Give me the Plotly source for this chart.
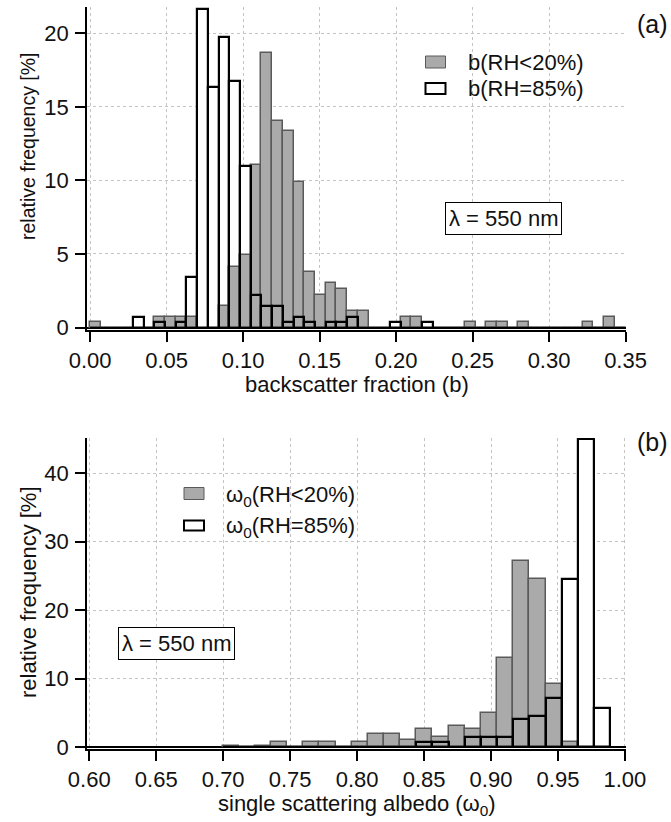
import plotly.graph_objects as go

# ---------------- data ----------------
# Panel (a): backscatter fraction, 50 bins of width 0.007 from 0.00 to 0.35
b_bin_width = 0.007
b_bin_centers = [round(0.0035 + 0.007 * i, 4) for i in range(50)]
b_dry = [0.36, 0, 0, 0, 0, 0, 0.73, 0.73, 0.73, 0.73,
         0, 0, 1.46, 4.14, 4.9, 11.02, 18.68, 14.06, 13.34, 9.89,
         3.77, 2.23, 3.0, 2.64, 1.1, 1.1, 0, 0, 0, 0.73,
         0.73, 0, 0, 0, 0, 0.36, 0, 0.36, 0.36, 0,
         0.36, 0, 0, 0, 0, 0, 0.36, 0, 0.73, 0]
b_wet = [0, 0, 0, 0, 0.73, 0, 0.36, 0, 0.36, 3.41,
         21.67, 16.33, 19.77, 16.74, 10.98, 2.23, 1.46, 1.46, 0.36, 0.73,
         0.36, 0, 0.36, 0.36, 0.73, 0, 0, 0, 0.36, 0,
         0, 0.36, 0, 0, 0, 0, 0, 0, 0, 0,
         0, 0, 0, 0, 0, 0, 0, 0, 0, 0]

# Panel (b): single scattering albedo, 24 bins of width 0.01206 starting at 0.6995
w_bin_width = 0.01206
w_bin_centers = [round(0.6995 + 0.01206 * (i + 0.5), 5) for i in range(24)]
w_dry = [0.2, 0, 0.2, 0.73, 0, 0.73, 0.73, 0, 0.73, 1.85,
         1.85, 1.07, 2.63, 1.46, 3.02, 2.63, 4.97, 13.0, 27.2, 24.5,
         9.2, 0.73, 0, 0]
w_wet = [0, 0, 0, 0, 0, 0, 0, 0, 0, 0,
         0, 0, 0.68, 0.68, 0, 1.41, 1.41, 1.41, 4.09, 4.48,
         7.1, 24.5, 44.96, 5.65]

b_ticks = [0.00, 0.05, 0.10, 0.15, 0.20, 0.25, 0.30, 0.35]
w_ticks = [0.60, 0.65, 0.70, 0.75, 0.80, 0.85, 0.90, 0.95, 1.00]
b_yticks = [0, 5, 10, 15, 20]
w_yticks = [0, 10, 20, 30, 40]

# ---------------- styling ----------------
W, H = 671, 822
ML, MR, MT, MB = 87, 45, 7, 73
FONT = "Liberation Sans, Arial, Helvetica, sans-serif"
GRAY_FILL = "#aaaaaa"
GRAY_LINE = "#5a5a5a"


def px(x, y):
    return (x - ML) / (W - ML - MR), (H - MB - y) / (H - MT - MB)


fig = go.Figure()


def add_hist(xa, ya, centers, width, dry, wet):
    # white fill (behind), gray bars, then black outlines on top
    fig.add_trace(go.Bar(x=centers, y=wet, width=width, xaxis=xa, yaxis=ya,
                         marker=dict(color="white", line=dict(width=0)),
                         showlegend=False, hoverinfo="skip"))
    fig.add_trace(go.Bar(x=centers, y=dry, width=width, xaxis=xa, yaxis=ya,
                         marker=dict(color=GRAY_FILL, line=dict(color=GRAY_LINE, width=1.5)),
                         showlegend=False))
    fig.add_trace(go.Bar(x=centers, y=wet, width=width, xaxis=xa, yaxis=ya,
                         marker=dict(color="rgba(0,0,0,0)", line=dict(color="black", width=2.2)),
                         showlegend=False))


add_hist("x", "y", b_bin_centers, b_bin_width, b_dry, b_wet)
add_hist("x2", "y2", w_bin_centers, w_bin_width, w_dry, w_wet)

axis_common = dict(
    showline=True, linecolor="black", linewidth=1.5,
    ticks="outside", ticklen=10, tickwidth=1.5, tickcolor="black",
    showgrid=True, gridcolor="#c4c4c4", griddash="dot", gridwidth=1,
    tickfont=dict(family=FONT, size=22, color="#111111"),
)

top_y0, top_y1 = px(0, 330)[1], 1.0
bot_y0, bot_y1 = 0.0, px(0, 438)[1]

fig.update_layout(
    width=W, height=H, autosize=False,
    margin=dict(l=ML, r=MR, t=MT, b=MB, pad=0),
    paper_bgcolor="white", plot_bgcolor="white",
    barmode="overlay", bargap=0,
    font=dict(family=FONT, size=22, color="#111111"),
    xaxis=dict(axis_common, domain=[0, 1], anchor="y", range=[-0.002, 0.3503],
               tickvals=b_ticks, ticktext=[f"{v:.2f}" for v in b_ticks],
               zeroline=False, ticklabelstandoff=0),
    yaxis=dict(axis_common, domain=[top_y0, top_y1], anchor="x", range=[-0.17, 21.79],
               tickvals=b_yticks, zeroline=True, zerolinecolor="black", zerolinewidth=2,
               ticklabelstandoff=2),
    xaxis2=dict(axis_common, domain=[0, 1], anchor="y2", range=[0.5983, 1.0008],
                tickvals=w_ticks, ticktext=[f"{v:.2f}" for v in w_ticks],
                zeroline=False, ticklabelstandoff=0),
    yaxis2=dict(axis_common, domain=[bot_y0, bot_y1], anchor="x2", range=[-0.29, 45.15],
                tickvals=w_yticks, zeroline=True, zerolinecolor="black", zerolinewidth=2,
                ticklabelstandoff=2),
)

ann = []


def text(x, y, s, size=22, xanchor="center", yanchor="middle", angle=0, **kw):
    X, Y = px(x, y)
    ann.append(dict(x=X, y=Y, xref="paper", yref="paper", text=s, showarrow=False,
                    xanchor=xanchor, yanchor=yanchor, textangle=angle,
                    font=dict(family=FONT, size=size, color="#111111"), **kw))


# axis titles
text(356.5, 384, "backscatter fraction (b)")
text(356.5, 805, "single scattering albedo (ω<sub>0</sub>)")
text(28, 146, "relative frequency [%]", size=19.5, angle=-90)
text(28, 592, "relative frequency [%]", angle=-90)

# panel labels
text(652, 24, "(a)", size=25)
text(652, 442, "(b)", size=25)

# lambda boxes
box = dict(bordercolor="black", borderwidth=1, bgcolor="white", borderpad=3)
text(503.3, 218.3, "λ = 550 nm", **box)
text(176.7, 643.7, "λ = 550 nm", **box)

# legends (swatches + labels)
shapes = []


def rect(x0, y0, x1, y1, fill, line, lw):
    X0, Y0 = px(x0, y0)
    X1, Y1 = px(x1, y1)
    shapes.append(dict(type="rect", xref="paper", yref="paper", x0=X0, y0=Y0, x1=X1, y1=Y1,
                       fillcolor=fill, line=dict(color=line, width=lw)))


rect(425.5, 56, 445.5, 68, GRAY_FILL, GRAY_LINE, 1)
rect(425.5, 83, 445.5, 94, "white", "black", 2)
text(466, 62, "b(RH&lt;20%)", xanchor="left")
text(466, 88.5, "b(RH=85%)", xanchor="left")

rect(184, 487.5, 204, 499.5, GRAY_FILL, GRAY_LINE, 1)
rect(184, 520.5, 204, 530.5, "white", "black", 2)
text(224, 496, "ω<sub>0</sub>(RH&lt;20%)", xanchor="left")
text(224, 527, "ω<sub>0</sub>(RH=85%)", xanchor="left")

fig.update_layout(annotations=ann, shapes=shapes)

fig.write_html("out.html")
